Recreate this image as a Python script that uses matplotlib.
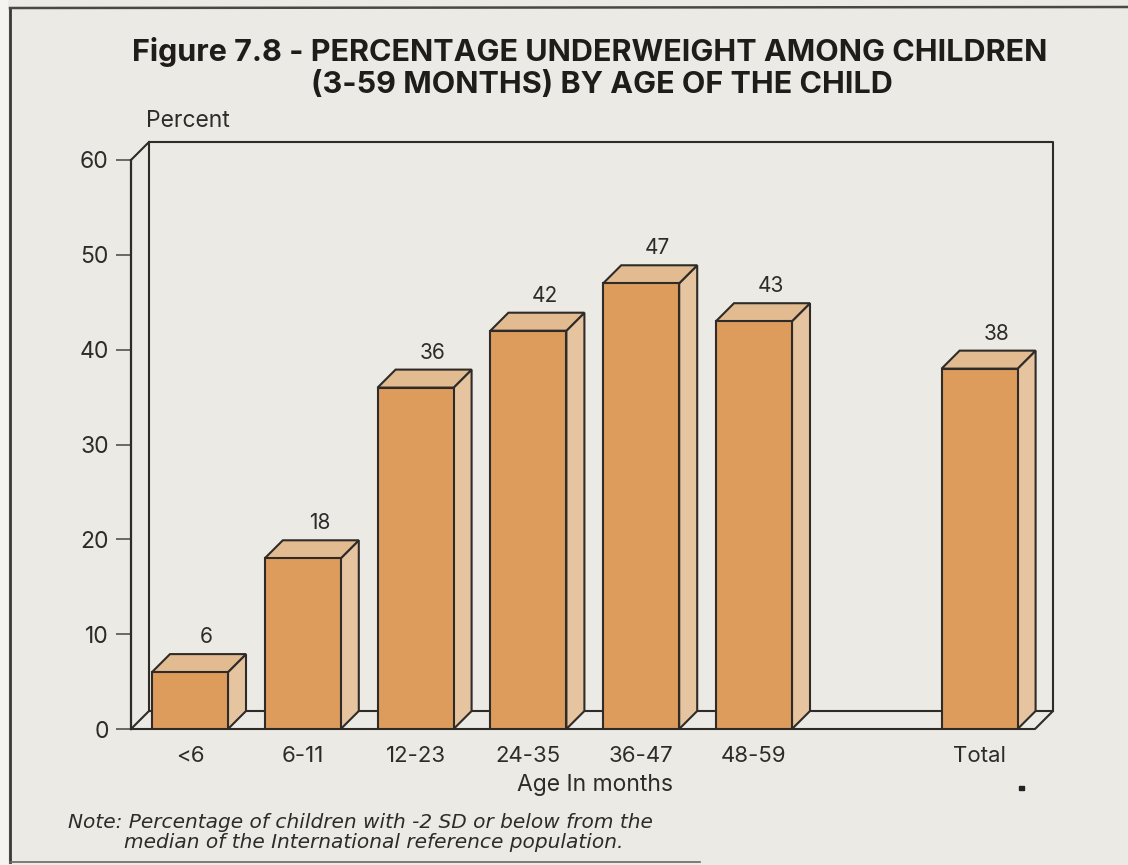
import matplotlib
matplotlib.use('Agg')
import matplotlib.pyplot as plt
from matplotlib.patches import Polygon, Rectangle
from matplotlib.lines import Line2D

plt.rcParams['font.family'] = ['Inter', 'DejaVu Sans']

# underweight children by age group
categories = ['<6', '6-11', '12-23', '24-35', '36-47', '48-59', 'Total']
positions = [0, 1, 2, 3, 4, 5, 7]
percent = [6, 18, 36, 42, 47, 43, 38]
y_ticks = [0, 10, 20, 30, 40, 50, 60]

W, H = 1128, 865
paper = '#ECEAE5'
ink = '#2F2B28'
front = '#DD9C5C'
side = '#E6C4A0'
top = '#E2BC90'


def fx(px):
    return px / W


def fy(py):
    return 1 - py / H


fig = plt.figure(figsize=(W / 100, H / 100), dpi=100, facecolor=paper)

# page frame, the bottom rule fades toward the right
fig.add_artist(Line2D([fx(10), fx(10)], [fy(8), fy(862)], color='#3A3734', lw=2))
fig.add_artist(Line2D([fx(10), fx(1128)], [fy(8), fy(7)], color='#4A4744', lw=1.8))
fig.add_artist(Line2D([fx(10), fx(700)], [fy(862), fy(862)], color='#6A6764', lw=1.2))
fig.add_artist(Rectangle((0, 0), fx(7), 1, color='#F5F4F1', transform=fig.transFigure))
fig.add_artist(Rectangle((fx(1019), fy(790)), 5 / W, 4 / H, color='#222222',
                         transform=fig.transFigure))

# axes cover the front plane of the box
left, right, y0, y60 = 131, 1035, 729, 160
ax = fig.add_axes([left / W, 1 - y0 / H, (right - left) / W, (y0 - y60) / H])
ax.patch.set_visible(False)
slot = 112.8
ax.set_xlim((left - 190) / slot, (right - 190) / slot)
ax.set_ylim(0, 60)
for s in ['top', 'right', 'bottom']:
    ax.spines[s].set_visible(False)
ax.spines['left'].set_linewidth(1.6)
ax.spines['left'].set_color(ink)

# depth of the 3d effect, in data units
dx = 18 / slot
dy = 18 / ((y0 - y60) / 60)
bw = 76 / slot
x_lo, x_hi = ax.get_xlim()
lw = 1.5

# back wall and floor
ax.plot([x_lo + dx, x_lo + dx, x_hi + dx, x_hi + dx],
        [dy, 60 + dy, 60 + dy, dy], color=ink, lw=lw, clip_on=False, zorder=1)
ax.plot([x_lo, x_lo + dx], [60, 60 + dy], color=ink, lw=lw, clip_on=False, zorder=1)
ax.plot([x_lo, x_lo + dx, x_hi + dx, x_hi, x_lo], [0, dy, dy, 0, 0],
        color=ink, lw=lw, clip_on=False, zorder=1)

# bars with top and side faces
for x, v in zip(positions, percent):
    x1 = x - bw / 2
    x2 = x + bw / 2
    ax.add_patch(Polygon([(x2, 0), (x2 + dx, dy), (x2 + dx, v + dy), (x2, v)],
                         fc=side, ec=ink, lw=lw, clip_on=False, zorder=3))
    ax.add_patch(Polygon([(x1, v), (x1 + dx, v + dy), (x2 + dx, v + dy), (x2, v)],
                         fc=top, ec=ink, lw=lw, clip_on=False, zorder=3))
    ax.bar(x, v, width=bw, color=front, edgecolor=ink, linewidth=lw, zorder=4)
    ax.annotate(str(v), (x + dx / 2, v + dy), xytext=(5.5, 5), textcoords='offset points',
                ha='center', va='bottom', fontsize=15, color=ink, zorder=5)

ax.set_yticks(y_ticks)
ax.set_xticks(positions)
ax.set_xticklabels(categories)
ax.tick_params(axis='y', length=11, width=1.2, color='#55514D', labelsize=16.5,
               labelcolor=ink, pad=5)
ax.tick_params(axis='x', length=0, labelsize=16, labelcolor=ink, pad=12)

fig.text(fx(590), fy(52), 'Figure 7.8 - PERCENTAGE UNDERWEIGHT AMONG CHILDREN',
         ha='center', va='center', fontsize=22, fontweight='bold', color='#1F1C1A')
fig.text(fx(602), fy(85), '(3-59 MONTHS) BY AGE OF THE CHILD',
         ha='center', va='center', fontsize=22, fontweight='bold', color='#1F1C1A')
fig.text(fx(146), fy(121), 'Percent', ha='left', va='center', fontsize=16.5, color=ink)
fig.text(fx(595), fy(785), 'Age In months', ha='center', va='center', fontsize=16.5, color=ink)
fig.text(fx(68), fy(822), 'Note: Percentage of children with -2 SD or below from the',
         ha='left', va='center', fontsize=14.5, style='italic', color=ink,
         family=['DejaVu Sans'])
fig.text(fx(124), fy(842), 'median of the International reference population.',
         ha='left', va='center', fontsize=14.5, style='italic', color=ink,
         family=['DejaVu Sans'])

fig.savefig('out.png', dpi=100, facecolor=paper)
